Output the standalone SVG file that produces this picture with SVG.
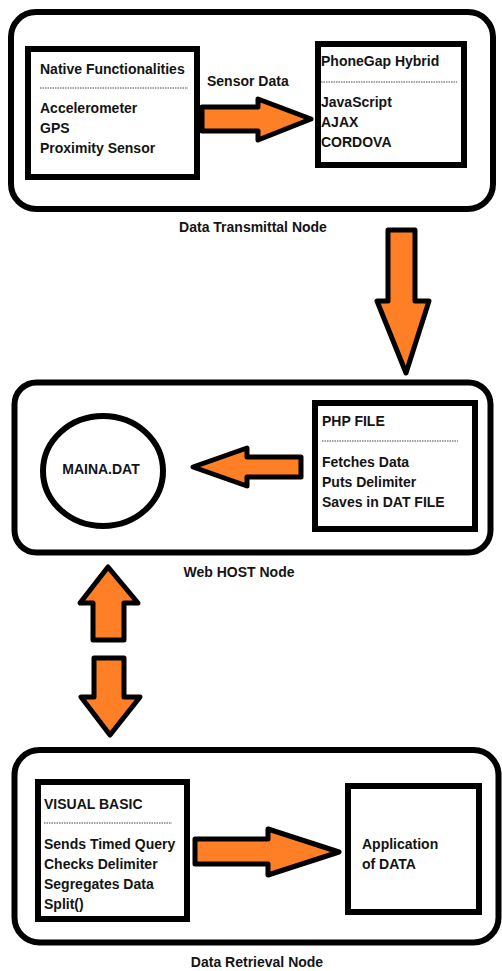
<svg xmlns="http://www.w3.org/2000/svg" width="502" height="971" viewBox="0 0 502 971">
  <style>
    .frame { fill: #ffffff; stroke: #000000; stroke-width: 6; }
    .box { fill: #ffffff; stroke: #000000; stroke-width: 6; }
    .sep { stroke: #444444; stroke-width: 1; stroke-dasharray: 1.5 1; }
    .arrow { fill: #ff7f27; stroke: #000000; stroke-width: 5; stroke-linejoin: round; }
    text { font-family: "Liberation Sans", Arial, sans-serif; font-size: 14px; font-weight: bold; fill: #141414; }
    .cap { text-anchor: middle; }
  </style>
  <rect width="502" height="971" fill="#ffffff"/>

  <!-- Data Transmittal Node -->
  <g id="transmittal-node">
    <rect class="frame" x="11" y="12" width="482" height="197" rx="25"/>
    <text class="cap" x="253" y="232">Data Transmittal Node</text>
  </g>
  <g id="native-functionalities">
    <rect class="box" x="28" y="49" width="169" height="128"/>
    <text x="40" y="74">Native Functionalities</text>
    <line class="sep" x1="40" y1="88" x2="188" y2="88"/>
    <text x="40" y="113">Accelerometer</text>
    <text x="40" y="133">GPS</text>
    <text x="40" y="153">Proximity Sensor</text>
  </g>
  <g id="phonegap-hybrid">
    <rect class="box" x="318" y="44" width="146" height="121"/>
    <text x="321" y="66">PhoneGap Hybrid</text>
    <line class="sep" x1="321" y1="82" x2="457" y2="82"/>
    <text x="321" y="107">JavaScript</text>
    <text x="321" y="127">AJAX</text>
    <text x="321" y="147">CORDOVA</text>
  </g>

  <!-- Web HOST Node -->
  <g id="web-host-node">
    <rect class="frame" x="14.5" y="382.5" width="476" height="170" rx="22"/>
    <text class="cap" x="239" y="577">Web HOST Node</text>
  </g>
  <g id="maina-dat">
    <ellipse class="frame" cx="103" cy="471" rx="60" ry="55" stroke-width="5"/>
    <text class="cap" x="101" y="474">MAINA.DAT</text>
  </g>
  <g id="php-file">
    <rect class="box" x="315" y="403" width="160" height="126"/>
    <text x="322" y="426">PHP FILE</text>
    <line class="sep" x1="322" y1="441" x2="458" y2="441"/>
    <text x="322" y="467">Fetches Data</text>
    <text x="322" y="487">Puts Delimiter</text>
    <text x="322" y="507">Saves in DAT FILE</text>
  </g>

  <!-- Data Retrieval Node -->
  <g id="retrieval-node">
    <rect class="frame" x="14.5" y="750" width="484" height="192.5" rx="25"/>
    <text class="cap" x="257" y="967">Data Retrieval Node</text>
  </g>
  <g id="visual-basic">
    <rect class="box" x="38" y="782" width="149" height="137"/>
    <text x="44" y="809">VISUAL BASIC</text>
    <line class="sep" x1="44" y1="823" x2="172" y2="823"/>
    <text x="44" y="849">Sends Timed Query</text>
    <text x="44" y="869">Checks Delimiter</text>
    <text x="44" y="889">Segregates Data</text>
    <text x="44" y="909">Split()</text>
  </g>
  <g id="application-of-data">
    <rect class="box" x="348" y="786" width="131" height="126"/>
    <text x="362" y="849">Application</text>
    <text x="362" y="869">of DATA</text>
  </g>

  <!-- Block arrows between the parts -->
  <g id="connectors">
    <g id="sensor-data-link">
      <polygon class="arrow" points="202,107 258,107 258,99 311,119 258,140 258,131 202,131"/>
      <text x="207" y="86">Sensor Data</text>
    </g>
    <polygon id="transmittal-to-host" class="arrow" points="388,230 415,230 415,301 429,301 406,373 377,301 388,301"/>
    <polygon id="php-to-dat" class="arrow" points="301,457 301,477 247,477 247,486 193,467 247,448 247,457"/>
    <polygon id="host-up" class="arrow" points="93,640 124,640 124,603 138,603 108,567 80,603 93,603"/>
    <polygon id="retrieval-down" class="arrow" points="94,658 124,658 124,697 140,697 110,735 81,697 94,697"/>
    <polygon id="vb-to-application" class="arrow" points="195,839 268,839 268,829 339,852 268,875 268,864 195,864"/>
  </g>
</svg>
